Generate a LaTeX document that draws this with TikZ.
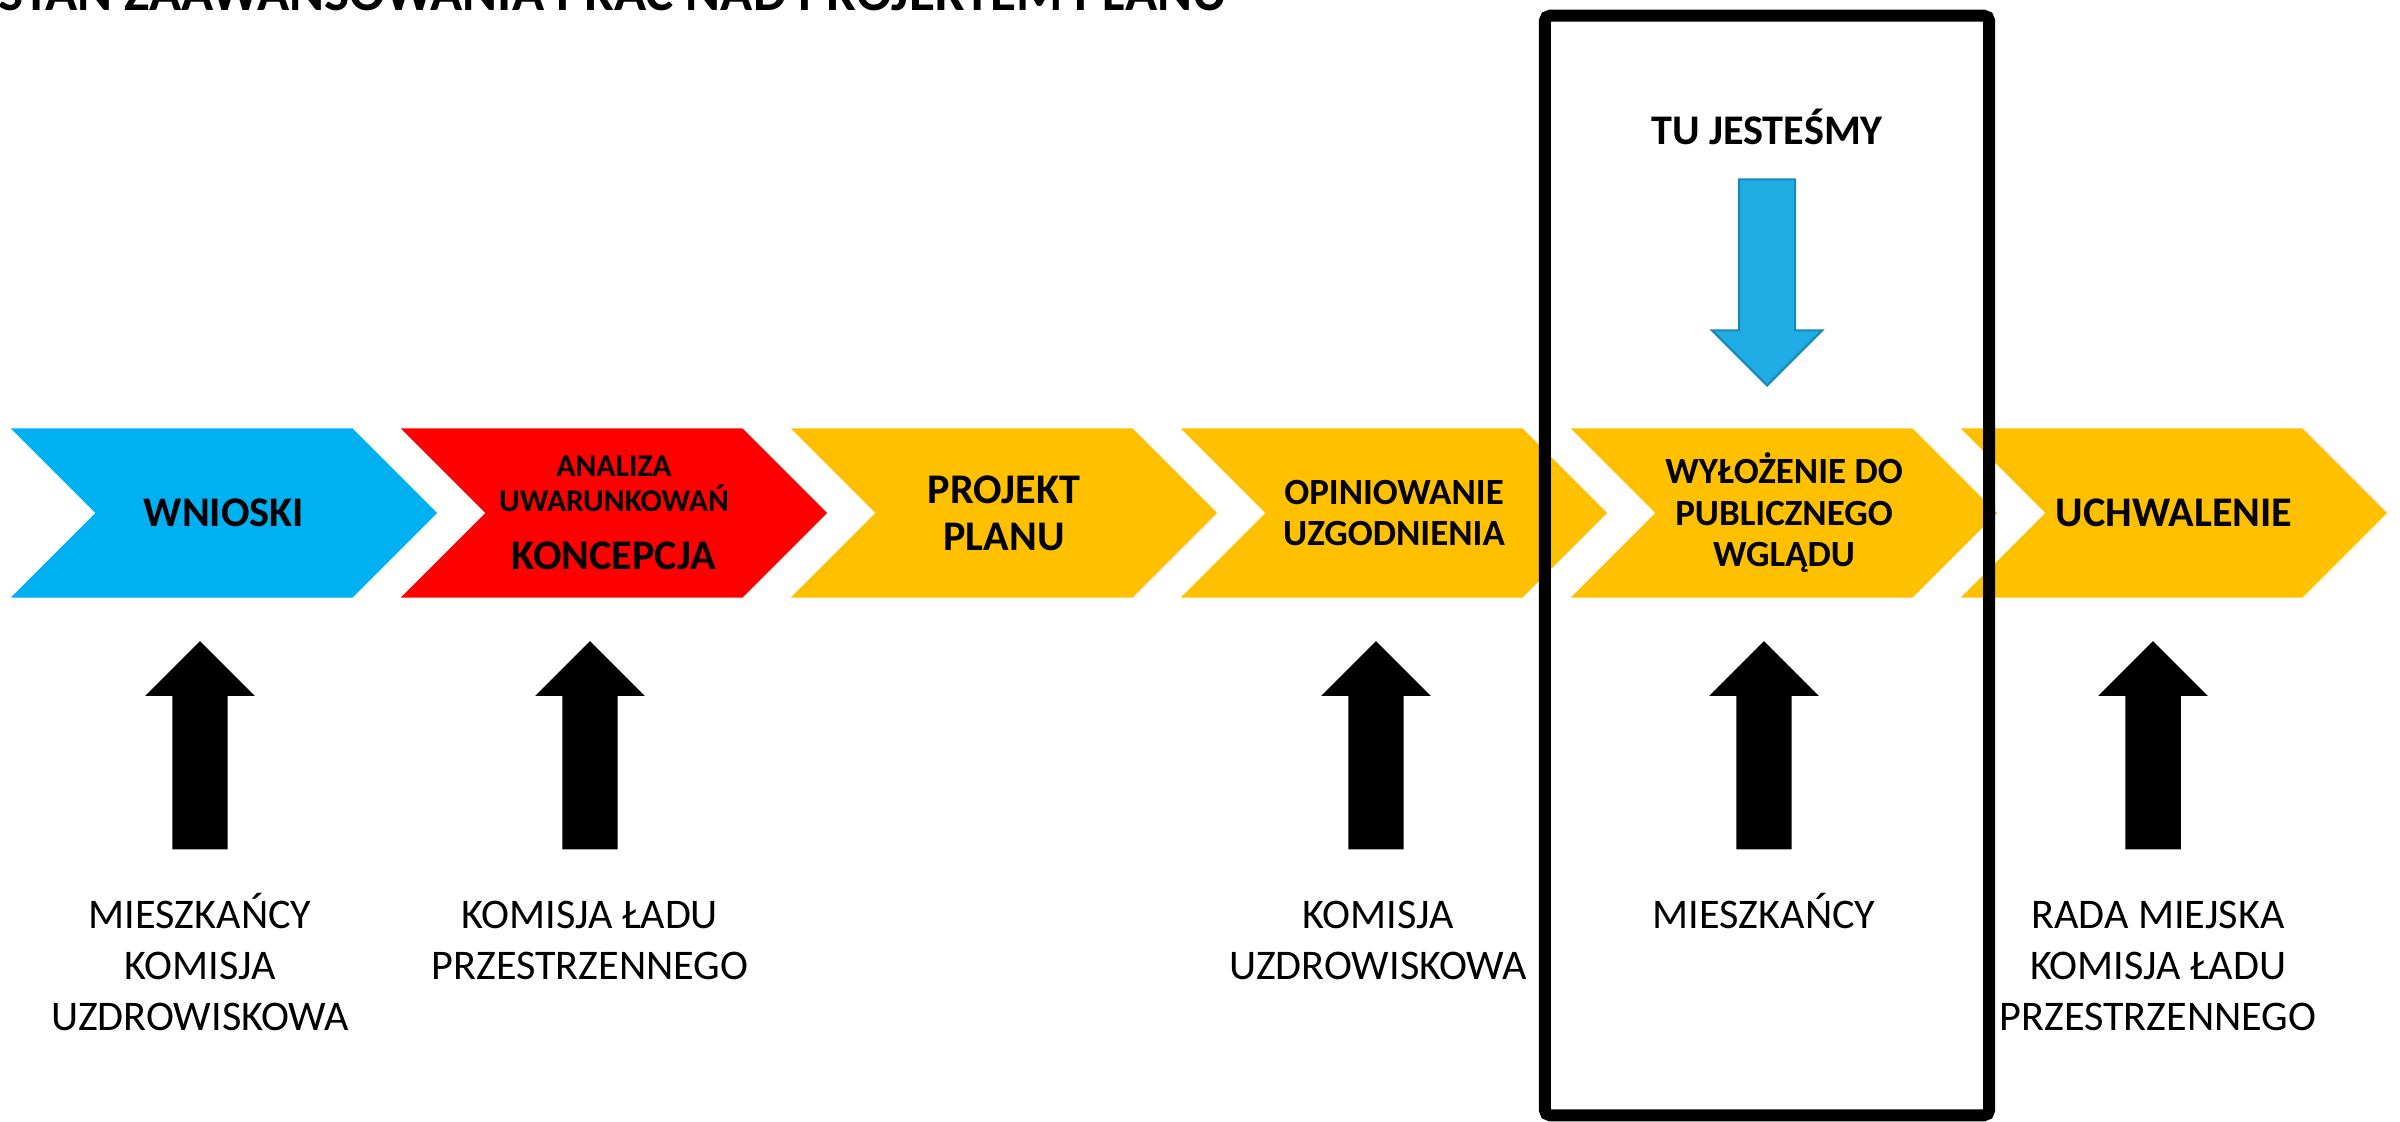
\documentclass[tikz,border=0pt]{standalone}
\usepackage{fontspec}
\setmainfont{Carlito}
\usetikzlibrary{shapes.symbols,shapes.arrows}

\definecolor{wnbl}{HTML}{00B0F0}
\definecolor{plred}{HTML}{FF0000}
\definecolor{plyel}{HTML}{FFC000}
\definecolor{tubl}{HTML}{1FACE3}
\definecolor{tubd}{HTML}{1A87B5}

\newcommand{\pxscl}{0.01}
\newcommand{\chn}{\node[signal, signal to=east, signal from=west, signal pointer angle=90, minimum width=4.26cm, minimum height=1.69cm, inner sep=0pt, align=center, font=\bfseries\fontsize{12}{13.4}\selectfont]}
\newcommand{\arn}{\node[single arrow, shape border rotate=90, single arrow tip angle=90, single arrow head extend=0.27cm, minimum height=2.08cm, minimum width=1.08cm, inner sep=0.27cm, fill=black, anchor=tail]}
\newcommand{\lbn}{\node[anchor=north, align=center, inner sep=0pt, font=\fontsize{12}{14.5}\selectfont]}

\begin{document}
\begin{tikzpicture}[x=\pxscl cm, y=-\pxscl cm]
            \useasboundingbox (0,0) rectangle (2400,1122);

            \node[anchor=base west, inner sep=0pt, font=\bfseries\fontsize{15.1}{18}\selectfont] (tytul) at (-2,11) {STAN ZAAWANSOWANIA PRAC NAD PROJEKTEM PLANU};

            % etapy
            \chn[fill=wnbl] (e1) at (224,513) {WNIOSKI};
            \chn[fill=plred] (e2) at (614,513) {\fontsize{9}{10}\selectfont ANALIZA\\[-3.4pt]\fontsize{9}{10}\selectfont UWARUNKOWAŃ\\[3.1pt]KONCEPCJA};
            \chn[fill=plyel] (e3) at (1004,513) {PROJEKT\\PLANU};
            \chn[fill=plyel, font=\bfseries\fontsize{10.5}{11.8}\selectfont] (e4) at (1394,513) {OPINIOWANIE\\UZGODNIENIA};
            \chn[fill=plyel, font=\bfseries\fontsize{10.5}{11.8}\selectfont] (e5) at (1784,513) {WYŁOŻENIE DO\\PUBLICZNEGO\\WGLĄDU};
            \chn[fill=plyel] (e6) at (2174,513) {UCHWALENIE};

            % strzalki
            \arn (a1) at (200,850) {};
            \arn (a2) at (590,850) {};
            \arn (a4) at (1376,850) {};
            \arn (a5) at (1764,850) {};
            \arn (a6) at (2153,850) {};

            \lbn (l1) at (200,893) {MIESZKAŃCY\\KOMISJA\\UZDROWISKOWA};
            \lbn (l2) at (590,900) {KOMISJA ŁADU\\PRZESTRZENNEGO};
            \lbn (l4) at (1378,900) {KOMISJA\\UZDROWISKOWA};
            \lbn (l5) at (1764,893) {MIESZKAŃCY};
            \lbn (l6) at (2158,900) {RADA MIEJSKA\\KOMISJA ŁADU\\PRZESTRZENNEGO};

            % tu jestesmy
            \node[anchor=base, font=\bfseries\fontsize{12}{14}\selectfont] (tu) at (1767,145) {TU JESTEŚMY};
            \node[single arrow, shape border rotate=270, single arrow tip angle=90, single arrow head extend=0.27cm, minimum height=2.06cm, minimum width=1.08cm, inner sep=0.27cm, fill=tubl, draw=tubd, line width=0.6pt, anchor=tip] (tuar) at (1767,387) {};

            \node[draw, line width=0.12cm, rounded corners=1.5pt, minimum width=4.44cm, minimum height=10.99cm, inner sep=0pt] (ramka) at (1767,565.5) {};
        \end{tikzpicture}
\end{document}
